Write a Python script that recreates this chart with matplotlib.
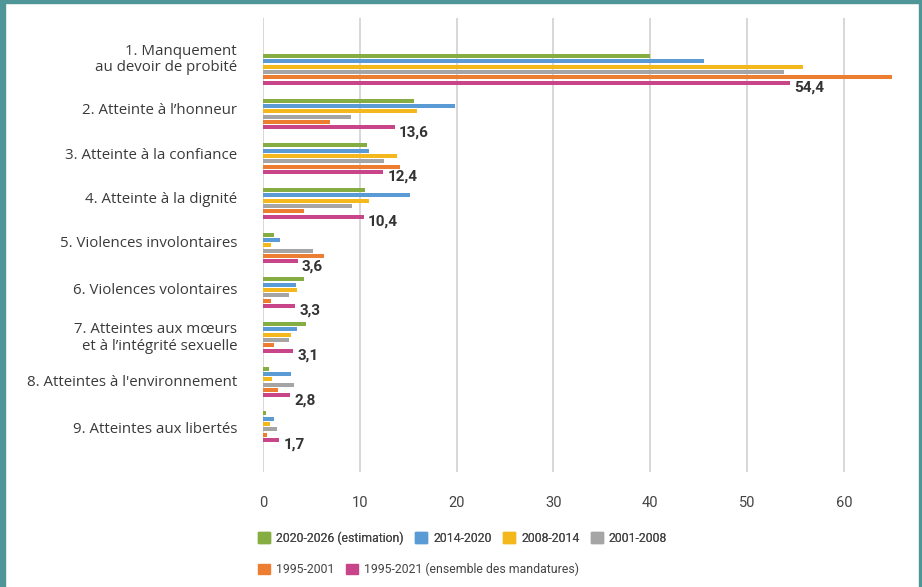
import matplotlib.pyplot as plt
from matplotlib.patches import Patch, Rectangle

plt.rcParams['font.family'] = ['Roboto', 'DejaVu Sans']

categories = [
    "1. Manquement\nau devoir de probité",
    "2. Atteinte à l’honneur",
    "3. Atteinte à la confiance",
    "4. Atteinte à la dignité",
    "5. Violences involontaires",
    "6. Violences volontaires",
    "7. Atteintes aux mœurs\net à l’intégrité sexuelle",
    "8. Atteintes à l'environnement",
    "9. Atteintes aux libertés",
]

series_names = [
    "2020-2026 (estimation)",
    "2014-2020",
    "2008-2014",
    "2001-2008",
    "1995-2001",
    "1995-2021 (ensemble des mandatures)",
]

v_2020_2026 = [40.0, 15.6, 10.7, 10.5, 1.1, 4.2, 4.4, 0.6, 0.3]
v_2014_2020 = [45.6, 19.8, 10.9, 15.2, 1.8, 3.4, 3.5, 2.9, 1.1]
v_2008_2014 = [55.8, 15.9, 13.8, 10.9, 0.8, 3.5, 2.9, 0.9, 0.7]
v_2001_2008 = [53.8, 9.1, 12.5, 9.2, 5.2, 2.7, 2.7, 3.2, 1.4]
v_1995_2001 = [65.0, 6.9, 14.2, 4.2, 6.3, 0.8, 1.1, 1.5, 0.4]
v_1995_2021 = [54.4, 13.6, 12.4, 10.4, 3.6, 3.3, 3.1, 2.8, 1.7]

colors = ["#86ad41", "#5b9bd5", "#f4b81c", "#a5a5a5", "#ed7d31", "#c9458a"]
series = [v_2020_2026, v_2014_2020, v_2008_2014, v_2001_2008, v_1995_2001, v_1995_2021]

fig = plt.figure(figsize=(9.22, 5.87), dpi=100)
ax = fig.add_axes([263 / 922, 1 - 472 / 587, 66.5 * 9.68 / 922, 454 / 587])

step = 0.1194      # distance between bars inside a group
bar_h = 0.085
for j, (vals, col) in enumerate(zip(series, colors)):
    ys = [i + j * step for i in range(len(categories))]
    ax.barh(ys, vals, height=bar_h, color=col, zorder=3)

# value of the overall period next to the last bar of each group
for i, v in enumerate(v_1995_2021):
    ax.annotate(f"{v:.1f}".replace(".", ","), (v, i + 5 * step),
                xytext=(3, -3.5), textcoords="offset points",
                ha="left", va="center", fontsize=11, fontweight="bold",
                color="#333333")

# category names on the left, nudged a little per row
nudges = [-10, -3.5, -3, -4, -4, -2.5, 1, 1, 3]
for i, (name, dy) in enumerate(zip(categories, nudges)):
    ax.text(-26 / 9.68, i + 2.5 * step + dy / 44.66, name,
            ha="right", va="center", fontsize=10.8, family=["Open Sans", "DejaVu Sans"],
            color="#3a3a3a", linespacing=1.15)

ax.set_xlim(0, 66.5)
ax.set_ylim(9.315, -0.851)
ax.set_xticks(range(0, 61, 10))
ax.set_yticks([])
ax.tick_params(axis="x", length=0, pad=17, labelsize=10.5, labelcolor="#444444")
ax.grid(axis="x", color="#d4d4d4", linewidth=1.3, zorder=0)
for s in ax.spines.values():
    s.set_visible(False)

# legend in two rows
handles = [Patch(color=c) for c in colors]
leg_kw = dict(frameon=False, fontsize=8.8,
              handlelength=1.0, handleheight=1.0,
              handletextpad=0.5, columnspacing=0.9, borderaxespad=0, borderpad=0,
              labelcolor="#444444", loc="center left")
leg1 = fig.legend(handles[:4], series_names[:4], ncol=4,
                  bbox_to_anchor=(258 / 922, 1 - 538 / 587), **leg_kw)
fig.add_artist(leg1)
fig.legend(handles[4:], series_names[4:], ncol=2,
           bbox_to_anchor=(258 / 922, 1 - 569.5 / 587), **leg_kw)

# teal frame on the left, top and right edges
teal = "#4e9698"
fig.add_artist(Rectangle((0, 0), 5 / 922, 1, transform=fig.transFigure, color=teal))
fig.add_artist(Rectangle((0, 1 - 3 / 587), 1, 3 / 587, transform=fig.transFigure, color=teal))
fig.add_artist(Rectangle((1 - 3 / 922, 0), 3 / 922, 1, transform=fig.transFigure, color=teal))

fig.savefig("out.png", dpi=100)
